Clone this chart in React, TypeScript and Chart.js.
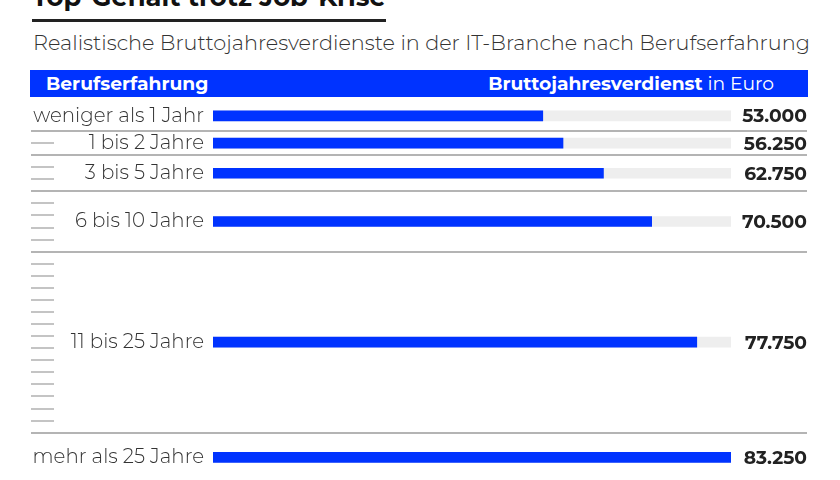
import React, { useEffect, useRef } from "react";
import { Chart, registerables } from "chart.js";

Chart.register(...registerables);

// ---- data ----
const categories = [
  "weniger als 1 Jahr",
  "1 bis 2 Jahre",
  "3 bis 5 Jahre",
  "6 bis 10 Jahre",
  "11 bis 25 Jahre",
  "mehr als 25 Jahre",
];
const salaries = [53000, 56250, 62750, 70500, 77750, 83250];
// year ranges: [from, to) — null means open-ended
const yearsFrom: (number | null)[] = [null, 1, 3, 6, 11, 26];
const yearsTo: (number | null)[] = [1, 3, 6, 11, 26, null];

const titleText = "Top-Gehalt trotz Job-Krise";
const subtitleText =
  "Realistische Bruttojahresverdienste in der IT-Branche nach Berufserfahrung";
const headerLeft = "Berufserfahrung";
const headerRightBold = "Bruttojahresverdienst";
const headerRightRegular = " in Euro";

// ---- style / layout ----
const BLUE = "#0033ff";
const TRACK = "#eeeeee";
const FONT = "Montserrat, 'Open Sans', sans-serif";
const OPEN_TOP_PAD = 1.25; // years above first boundary for open first row
const OPEN_BOTTOM_PAD = 2.05; // years below last boundary for open last row
const Y_MIN = -1.82;
const Y_MAX = 29.92;

const maxSalary = Math.max(...salaries);
const centers = categories.map((_, i) => {
  const f = yearsFrom[i];
  const t = yearsTo[i];
  if (f === null && t !== null) return t - OPEN_TOP_PAD;
  if (t === null && f !== null) return f + OPEN_BOTTOM_PAD;
  return ((f as number) + (t as number)) / 2;
});

function fmt(n: number): string {
  return String(n).replace(/\B(?=(\d{3})+(?!\d))/g, ".");
}

const guidesPlugin = {
  id: "guides",
  beforeDatasetsDraw(chart: any) {
    const { ctx, scales } = chart;
    const y = scales.y;
    ctx.save();
    ctx.strokeStyle = "#c4c4c4";
    ctx.lineWidth = 2;
    categories.forEach((_, i) => {
      const f = yearsFrom[i];
      const t = yearsTo[i];
      if (f === null || t === null) return;
      for (let yr = f + 1; yr < t; yr++) {
        const py = Math.round(y.getPixelForValue(yr));
        ctx.beginPath();
        ctx.moveTo(31, py);
        ctx.lineTo(54, py);
        ctx.stroke();
      }
    });
    ctx.strokeStyle = "#b4b4b4";
    ctx.lineWidth = 2;
    yearsTo.forEach((t) => {
      if (t === null) return;
      const py = Math.round(y.getPixelForValue(t));
      ctx.beginPath();
      ctx.moveTo(31, py);
      ctx.lineTo(807, py);
      ctx.stroke();
    });
    ctx.restore();
  },
  afterDatasetsDraw(chart: any) {
    const { ctx } = chart;
    const meta = chart.getDatasetMeta(0);
    ctx.save();
    ctx.font = `700 18.7px ${FONT}`;
    ctx.fillStyle = "#222222";
    ctx.textAlign = "right";
    ctx.textBaseline = "middle";
    meta.data.forEach((bar: any, i: number) => {
      ctx.fillText(fmt(salaries[i]), 807, bar.y + 1);
    });
    ctx.restore();
  },
};

function SalaryChart() {
  const ref = useRef<HTMLCanvasElement | null>(null);
  useEffect(() => {
    if (!ref.current) return;
    const chart = new Chart(ref.current, {
      type: "bar",
      data: {
        datasets: [
          {
            label: "Bruttojahresverdienst",
            data: salaries.map((v, i) => ({ x: v, y: centers[i] })),
            backgroundColor: BLUE,
            barThickness: 10,
            grouped: false,
          } as any,
          {
            label: "track",
            data: salaries.map((_, i) => ({ x: maxSalary, y: centers[i] })),
            backgroundColor: TRACK,
            barThickness: 10,
            grouped: false,
          } as any,
        ],
      },
      options: {
        indexAxis: "y",
        animation: false,
        responsive: false,
        maintainAspectRatio: false,
        layout: { padding: { left: 0, right: 840 - 731, top: 0, bottom: 0 } },
        plugins: {
          legend: { display: false },
          tooltip: { enabled: false },
          title: { display: false },
        },
        scales: {
          x: {
            type: "linear",
            min: 0,
            max: maxSalary,
            display: false,
          },
          y: {
            type: "linear",
            reverse: true,
            offset: false,
            min: Y_MIN,
            max: Y_MAX,
            grid: { display: false, drawTicks: false, offset: false },
            border: { display: false },
            afterBuildTicks: (scale: any) => {
              scale.ticks = centers.map((v) => ({ value: v }));
            },
            afterFit: (scale: any) => {
              scale.width = 213;
              scale.paddingTop = 0;
              scale.paddingBottom = 0;
            },
            ticks: {
              autoSkip: false,
              padding: 9,
              color: "#333333",
              font: { family: FONT, size: 19.8, weight: 300 as any },
              callback: (_v: any, index: number) => categories[index],
            },
          },
        },
      },
      plugins: [guidesPlugin],
    });
    return () => chart.destroy();
  }, []);
  return (
    <canvas
      ref={ref}
      width={840}
      height={383}
      style={{ position: "absolute", left: 0, top: 97, width: 840, height: 383 }}
    />
  );
}

export default function App() {
  useEffect(() => {
    document.body.style.margin = "0";
  }, []);
  return (
    <div
      style={{
        position: "relative",
        width: 840,
        height: 480,
        overflow: "hidden",
        background: "#ffffff",
        fontFamily: FONT,
      }}
    >
      <div
        style={{
          position: "absolute",
          left: 32,
          top: -16,
          fontSize: 25.8,
          lineHeight: "26px",
          fontWeight: 700,
          color: "#111111",
          whiteSpace: "nowrap",
        }}
      >
        {titleText}
      </div>
      <div
        style={{
          position: "absolute",
          left: 32,
          top: 19,
          width: 354,
          height: 3,
          background: "#222222",
        }}
      />
      <div
        style={{
          position: "absolute",
          left: 33,
          top: 31,
          fontSize: 20.8,
          lineHeight: "24px",
          fontWeight: 300,
          color: "#333333",
          whiteSpace: "nowrap",
        }}
      >
        {subtitleText}
      </div>
      <div
        style={{
          position: "absolute",
          left: 30,
          top: 70,
          width: 778,
          height: 27,
          background: BLUE,
          color: "#ffffff",
          fontSize: 18.7,
          lineHeight: "27px",
        }}
      >
        <span style={{ position: "absolute", left: 16, fontWeight: 700 }}>
          {headerLeft}
        </span>
        <span style={{ position: "absolute", right: 34, whiteSpace: "nowrap" }}>
          <span style={{ fontWeight: 700 }}>{headerRightBold}</span>
          <span style={{ fontWeight: 400 }}>{headerRightRegular}</span>
        </span>
      </div>
      <SalaryChart />
    </div>
  );
}
